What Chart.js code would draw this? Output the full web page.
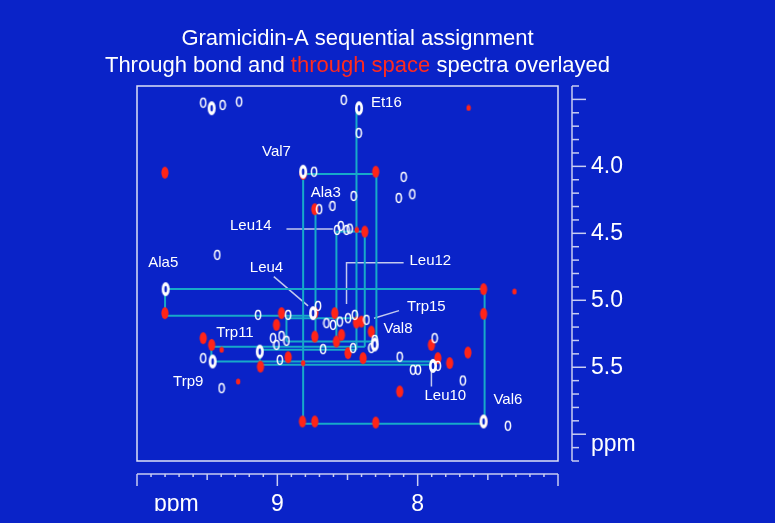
<!DOCTYPE html>
<html><head><meta charset="utf-8">
<script src="https://cdn.jsdelivr.net/npm/chart.js@4/dist/chart.umd.min.js"></script>
<style>html,body{margin:0;padding:0;background:#0a23c8;overflow:hidden}#wrap{width:775px;height:523px}</style>
</head><body><div id="wrap"><canvas id="c" width="775" height="523"></canvas></div>
<script>
// ---- data (ppm) ----
const xTickValues = [9.72, 9, 8];
const xTickLabels = ['ppm', '9', '8'];
const yTickValues = [4.0, 4.5, 5.0, 5.5, 6.08];
const yTickLabels = ['4.0', '4.5', '5.0', '5.5', 'ppm'];

const whitePeaks = [
  [9.528,3.525],[9.390,3.542],[9.272,3.517],[8.527,3.504],[8.420,3.751],
  [8.738,4.040],[8.100,4.079],[8.135,4.236],[8.038,4.208],[8.456,4.221],
  [8.702,4.320],[8.607,4.296],[8.574,4.475],[8.548,4.445],[8.507,4.475],[8.484,4.465],
  [9.428,4.661],[9.137,5.109],[8.923,5.109],[8.710,5.042],[8.970,5.266],[8.935,5.303],
  [9.006,5.333],[9.030,5.283],[9.528,5.432],[8.982,5.445],[9.397,5.656],
  [8.650,5.171],[8.603,5.184],[8.555,5.159],[8.496,5.134],[8.448,5.109],[8.365,5.146],
  [8.674,5.365],[8.460,5.357],[8.306,5.296],[8.330,5.357],[8.128,5.422],[7.879,5.283],
  [8.033,5.519],[7.998,5.519],[7.856,5.490],[7.678,5.599],[7.357,5.937]
];
const whiteStrongPeaks = [
  [9.468,3.566],[8.418,3.566],[8.816,4.040],[9.796,4.917],[8.745,5.096],
  [9.125,5.383],[9.461,5.457],[7.891,5.490],[7.530,5.905],[8.306,5.330]
];
const redPeaks = [
  [9.801,4.047],[9.801,5.096],[8.816,4.057],[8.299,4.040],[8.733,4.320],[8.377,4.487],
  [8.970,5.096],[9.006,5.184],[9.528,5.283],[9.468,5.333],[9.120,5.495],[8.923,5.425],
  [8.733,5.094],[8.591,5.096],[8.543,5.258],[8.733,5.271],[8.579,5.308],[8.496,5.395],
  [8.401,5.159],[8.436,5.166],[8.330,5.234],[8.389,5.432],[7.902,5.333],[7.856,5.432],
  [7.642,5.390],[7.772,5.469],[8.128,5.681],[7.530,4.917],[7.530,5.101],
  [8.821,5.905],[8.733,5.905],[8.299,5.913],[7.530,5.905]
];
const redSmallPeaks = [
  [8.434,4.475],[9.397,5.370],[9.279,5.607],[7.310,4.935],[7.637,3.564],[8.816,5.469]
];
const assignmentLinks = [
  [[8.816,4.057],[8.294,4.057]],
  [[8.816,4.057],[8.816,5.922]],
  [[8.816,5.922],[7.523,5.922]],
  [[7.523,4.915],[7.523,5.922]],
  [[9.800,4.915],[7.523,4.915]],
  [[9.800,4.915],[9.800,5.116]],
  [[9.800,5.116],[8.728,5.116]],
  [[8.728,4.320],[8.728,5.308]],
  [[8.436,3.566],[8.436,5.370]],
  [[8.579,4.487],[8.377,4.487]],
  [[8.579,4.487],[8.579,5.308]],
  [[8.377,4.487],[8.377,5.346]],
  [[8.294,4.057],[8.294,5.308]],
  [[8.935,5.134],[8.436,5.134]],
  [[8.935,5.134],[8.935,5.308]],
  [[8.935,5.308],[8.294,5.308]],
  [[9.470,5.346],[8.377,5.346]],
  [[9.125,5.370],[8.436,5.370]],
  [[9.470,5.346],[9.470,5.457]],
  [[9.125,5.370],[9.125,5.482]],
  [[9.470,5.457],[7.902,5.457]],
  [[9.125,5.482],[7.902,5.482]]
];
const leaderLines = [
  [[8.935,4.467],[8.605,4.467]],
  [[9.025,4.823],[8.781,5.042]],
  [[8.100,4.719],[8.507,4.719],[8.507,5.027]],
  [[8.133,5.077],[8.311,5.134]],
  [[7.902,5.519],[7.902,5.644]]
];
const residueNames = ['Et16','Val7','Ala3','Leu14','Ala5','Leu4','Leu12','Trp15','Val8','Trp11','Trp9','Leu10','Val6'];
const residueLabelX = [8.223,9.006,8.655,9.189,9.813,9.077,7.910,7.938,8.140,9.302,9.635,7.803,7.357];
const residueLabelY = [3.525,3.890,4.201,4.445,4.719,4.756,4.704,5.049,5.216,5.241,5.607,5.713,5.743];

// ---- styles ----
const BG = '#0a23c8';
const CYAN = '#17a9c9';
const RULER = '#c9cdf2';
const FONT = '"Liberation Sans", Arial, Helvetica, sans-serif';

function oval(w, h, rx, ry, fill, stroke, lw, inner) {
  const c = document.createElement('canvas');
  c.width = w; c.height = h;
  const g = c.getContext('2d');
  g.beginPath(); g.ellipse(w/2, h/2, rx, ry, 0, 0, Math.PI*2);
  if (fill) { g.fillStyle = fill; g.fill(); }
  if (stroke) { g.strokeStyle = stroke; g.lineWidth = lw; g.stroke(); }
  if (inner) {
    g.beginPath(); g.ellipse(w/2, h/2, inner[0], inner[1], 0, 0, Math.PI*2);
    g.fillStyle = inner[2]; g.fill();
  }
  return c;
}
const whiteOval = oval(8, 12, 2.6, 4.4, null, '#ffffff', 1.5);
const whiteStrong = oval(10, 16, 4, 7, '#ffffff', null, 0, [1.3, 3.2, BG]);
const redOval = oval(10, 14, 3.6, 6, '#ff2418', null, 0);
const redSmall = oval(6, 7, 2.2, 3, '#ff2418', null, 0);

const toPts = arr => arr.map(p => ({x: p[0], y: p[1]}));
const datasets = [];
datasets.push({type:'scatter', data: toPts(whiteStrongPeaks), pointStyle: whiteStrong, pointRadius: 5, order: 1});
datasets.push({type:'scatter', data: toPts(whitePeaks), pointStyle: whiteOval, pointRadius: 4, order: 1});
datasets.push({type:'scatter', data: toPts(redPeaks), pointStyle: redOval, pointRadius: 4, order: 2});
datasets.push({type:'scatter', data: toPts(redSmallPeaks), pointStyle: redSmall, pointRadius: 3, order: 2});
assignmentLinks.forEach(seg => datasets.push({type:'scatter', showLine: true, data: toPts(seg), borderColor: CYAN, borderWidth: 2, pointRadius: 0, order: 3}));
leaderLines.forEach(seg => datasets.push({type:'scatter', showLine: true, data: toPts(seg), borderColor: '#c3c9ee', borderWidth: 1.5, pointRadius: 0, order: 3}));

const lookup = (vals, labels) => v => { const i = vals.findIndex(t => Math.abs(t - v) < 1e-6); return i >= 0 ? labels[i] : ''; };

const deco = {
  id: 'deco',
  beforeDraw(chart) {
    const g = chart.ctx;
    g.save(); g.fillStyle = BG; g.fillRect(0, 0, chart.width, chart.height); g.restore();
  },
  afterDraw(chart) {
    const g = chart.ctx, ca = chart.chartArea, xs = chart.scales.x, ys = chart.scales.y;
    g.save();
    // frame
    g.strokeStyle = '#dde1f6'; g.lineWidth = 1.5;
    g.strokeRect(ca.left, ca.top, ca.width, ca.height);
    // x ruler
    g.strokeStyle = RULER; g.lineWidth = 1.5;
    const y0 = ca.bottom + 13;
    g.beginPath(); g.moveTo(xs.getPixelForValue(10), y0); g.lineTo(xs.getPixelForValue(7), y0); g.stroke();
    for (let v = 70; v <= 100; v++) {
      const px = xs.getPixelForValue(v/10);
      const len = v % 10 === 0 ? 12 : (v % 5 === 0 ? 6 : 3);
      g.beginPath(); g.moveTo(px, y0); g.lineTo(px, y0 + len); g.stroke();
    }
    // y ruler
    const x0 = ca.right + 14;
    g.beginPath(); g.moveTo(x0, ys.getPixelForValue(3.4)); g.lineTo(x0, ys.getPixelForValue(6.2)); g.stroke();
    for (let v = 34; v <= 62; v++) {
      const py = ys.getPixelForValue(v/10);
      const len = v % 5 === 0 ? 14 : 7;
      g.beginPath(); g.moveTo(x0, py); g.lineTo(x0 + len, py); g.stroke();
    }
    // residue labels
    g.fillStyle = '#ffffff'; g.font = '15px ' + FONT; g.textAlign = 'center'; g.textBaseline = 'middle';
    residueNames.forEach((n, i) => g.fillText(n, xs.getPixelForValue(residueLabelX[i]), ys.getPixelForValue(residueLabelY[i])));
    // title
    g.font = '22px ' + FONT; g.textBaseline = 'alphabetic'; g.textAlign = 'left';
    const cx = 357.5;
    const t1 = 'Gramicidin-A sequential assignment';
    g.fillStyle = '#ffffff';
    g.fillText(t1, cx - g.measureText(t1).width/2, 44.5);
    const parts = [['Through bond and ', '#ffffff'], ['through space', '#ff2a1e'], [' spectra overlayed', '#ffffff']];
    const tot = parts.reduce((s, p) => s + g.measureText(p[0]).width, 0);
    let x = cx - tot/2;
    parts.forEach(p => { g.fillStyle = p[1]; g.fillText(p[0], x, 72); x += g.measureText(p[0]).width; });
    g.restore();
  }
};

new Chart(document.getElementById('c'), {
  type: 'scatter',
  data: { datasets },
  options: {
    responsive: false, animation: false,
    layout: { padding: { left: 137, top: 86, right: 117, bottom: 12 } },
    plugins: { legend: { display: false }, tooltip: { enabled: false }, title: { display: false } },
    scales: {
      x: {
        type: 'linear', min: 7, max: 10, reverse: true, position: 'bottom',
        grid: { display: false, drawTicks: false }, border: { display: false },
        afterBuildTicks: s => { s.ticks = xTickValues.map(v => ({value: v})); },
        afterFit: s => { s.height = 50; },
        ticks: { color: '#ffffff', font: { size: 23, family: FONT }, padding: 30, autoSkip: false, maxRotation: 0, callback: lookup(xTickValues, xTickLabels) }
      },
      y: {
        type: 'linear', min: 3.4, max: 6.2, reverse: true, position: 'right',
        grid: { display: false, drawTicks: false }, border: { display: false },
        afterBuildTicks: s => { s.ticks = yTickValues.map(v => ({value: v})); },
        afterFit: s => { s.width = 100; },
        ticks: { color: '#ffffff', font: { size: 23, family: FONT }, padding: 33, autoSkip: false, callback: lookup(yTickValues, yTickLabels) }
      }
    }
  },
  plugins: [deco]
});
</script></body></html>
